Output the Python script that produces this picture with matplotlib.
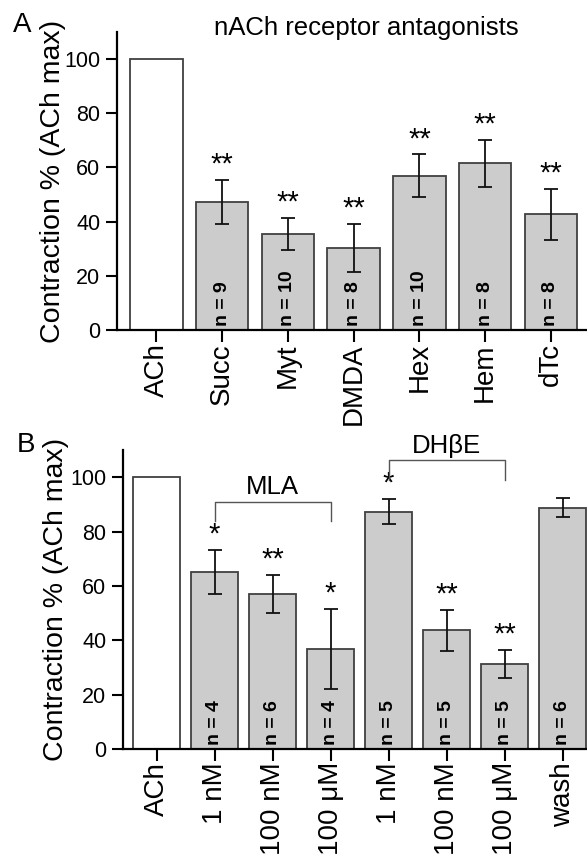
import matplotlib
matplotlib.use("Agg")
import matplotlib.pyplot as plt

plt.rcParams['font.family'] = ['Liberation Sans', 'DejaVu Sans']

# Panel A data
a_cats = ["ACh", "Succ", "Myt", "DMDA", "Hex", "Hem", "dTc"]
a_vals = [100, 47.2, 35.5, 30.3, 56.9, 61.5, 42.8]
a_err = [0, 8.2, 6.0, 9.0, 7.9, 8.7, 9.4]
a_n = ["", "n = 9", "n = 10", "n = 8", "n = 10", "n = 8", "n = 8"]
a_sig = ["", "**", "**", "**", "**", "**", "**"]

# Panel B data
b_cats = ["ACh", "1 nM", "100 nM", "100 μM", "1 nM", "100 nM", "100 μM", "wash"]
b_vals = [100, 65.2, 57.1, 36.9, 87.3, 43.7, 31.4, 88.8]
b_err = [0, 8.0, 7.0, 14.7, 4.6, 7.5, 5.2, 3.5]
b_n = ["", "n = 4", "n = 6", "n = 4", "n = 5", "n = 5", "n = 5", "n = 6"]
b_sig = ["", "*", "**", "*", "*", "**", "**", ""]

GRAY = "#cccccc"
EDGE = "#404040"

fig = plt.figure(figsize=(5.87, 8.55), dpi=100)

def draw(ax, cats, vals, errs, ns, sigs, xlim):
    x = list(range(len(cats)))
    colors = ["white"] + [GRAY] * (len(cats) - 1)
    ax.bar(x, vals, width=0.8, color=colors, edgecolor=EDGE, linewidth=1.3, zorder=2)
    for i in range(1, len(cats)):
        ax.errorbar(x[i], vals[i], yerr=errs[i], fmt="none", ecolor="#111111",
                    elinewidth=1.3, capsize=5, capthick=1.3, zorder=3)
        if sigs[i]:
            ax.text(x[i], vals[i] + errs[i] + 0.5, sigs[i], ha="center", va="bottom",
                    fontsize=21, zorder=4)
        ax.text(x[i], 1.5, ns[i], rotation=90, ha="center", va="bottom",
                fontsize=14, fontweight="bold", zorder=4)
    ax.set_xlim(*xlim)
    ax.set_ylim(0, 110)
    ax.set_yticks([0, 20, 40, 60, 80, 100])
    ax.set_xticks(x)
    ax.set_xticklabels(cats, rotation=90, fontsize=20)
    ax.tick_params(axis="y", labelsize=15.5, length=8, width=1.5, pad=4)
    ax.tick_params(axis="x", length=8.5, width=1.5, pad=1)
    for s in ["top", "right"]:
        ax.spines[s].set_visible(False)
    for s in ["left", "bottom"]:
        ax.spines[s].set_linewidth(1.6)
    ax.set_ylabel("Contraction % (ACh max)", fontsize=20.5)

axA = fig.add_axes([117/587, 1 - 330/855, 470/587, 298/855])
draw(axA, a_cats, a_vals, a_err, a_n, a_sig, (-0.6, 6.55))
axA.yaxis.set_label_coords((66 - 117) / 470, 0.5)
axA.text((366 - 117) / 470, (330 - 35) / 298, "nACh receptor antagonists",
         transform=axA.transAxes, ha="center", va="baseline", fontsize=18.5)
fig.text(22/587, 1 - 25/855, "A", fontsize=20, ha="center", va="center")

axB = fig.add_axes([123/587, 1 - 749/855, 464/587, 299/855])
draw(axB, b_cats, b_vals, b_err, b_n, b_sig, (-0.58, 7.42))
axB.yaxis.set_label_coords((69 - 123) / 464, 0.5)
fig.text(26/587, 1 - 445/855, "B", fontsize=20, ha="center", va="center")

# brackets
def bracket(ax, x0, x1, ytop, yleg, label, ytext):
    ax.plot([x0, x0, x1, x1], [yleg, ytop, ytop, yleg], color="#555555", lw=1.0,
            clip_on=False, zorder=5)
    ax.text((x0 + x1) / 2, ytext, label, ha="center", va="center", fontsize=18.5,
            clip_on=False)

bracket(axB, 1, 3, 90.9, 83.7, "MLA", 96.5)
bracket(axB, 4, 6, 106.3, 99.0, "DHβE", 111.5)

fig.savefig("out.png", dpi=100)
